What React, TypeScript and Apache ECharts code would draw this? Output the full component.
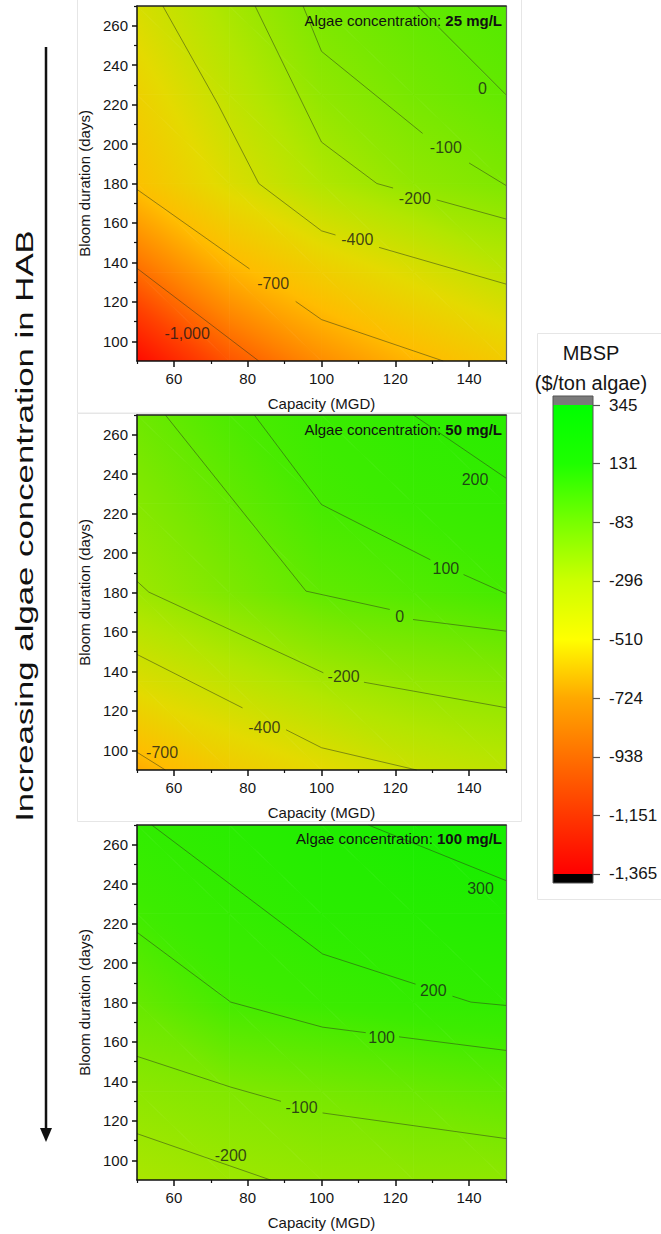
import React, { useEffect, useRef } from "react";
import * as echarts from "echarts";

const FONT = '"Liberation Sans", Arial, Helvetica, sans-serif';

// ---------- data ----------
const CAPACITY_NODES = [50, 75, 100, 125, 150]; // MGD
const DURATION_NODES = [90, 135, 180, 225, 270]; // days

// MBSP ($/ton algae); rows = duration 90 → 270, columns = capacity 50 → 150
const MBSP_25 = [
  [-1365, -1088, -898, -748, -620],
  [-1015, -767, -604, -473, -342],
  [-690, -473, -294, -171, -100],
  [-580, -355, -170, -70, 0],
  [-455, -256, -84, -3, 50],
];
const MBSP_50 = [
  [-790, -624, -514, -403, -340],
  [-470, -356, -252, -177, -131],
  [-215, -98, 8, 54, 100],
  [-125, -8, 100, 142, 178],
  [-40, 72, 142, 200, 240],
];
const MBSP_100 = [
  [-266, -220, -188, -172, -160],
  [-155, -110, -69, -31, 7],
  [-13, 100, 138, 176, 201],
  [115, 174, 225, 250, 273],
  [190, 235, 278, 318, 345],
];

// contour line pieces [capacity, duration] (gaps where labels sit)
const CONTOURS_25 = [
  [[50, 137], [83, 90]],
  [[50, 177], [80.5, 136.7]],
  [[93, 120.2], [100, 111], [133, 90]],
  [[57, 270], [63, 250], [72, 220], [83, 180], [100, 156], [103.8, 153.9]],
  [[115.6, 147.6], [150, 129]],
  [[82, 270], [100, 201], [115, 180], [119.4, 177.7]],
  [[131.2, 171.7], [150, 162]],
  [[95, 270], [100, 247], [127.4, 205.4]],
  [[140, 190.4], [150, 179]],
  [[126, 270], [150, 225]],
];
const CONTOURS_50 = [
  [[50, 99], [57.7, 90]],
  [[50, 148.6], [78.6, 121.5]],
  [[90.4, 110.4], [100, 101.3], [125.8, 90]],
  [[50, 185.7], [53.2, 180.2], [100.5, 139.3]],
  [[111.5, 134.5], [150, 121.6]],
  [[57.7, 270], [95.8, 180.7], [118.5, 171.4]],
  [[124.8, 166.3], [150, 160.4]],
  [[81.8, 270], [100, 224.6], [129.5, 196.6]],
  [[138.5, 189.1], [150, 179.5]],
  [[124.9, 270], [150, 238]],
];
const CONTOURS_100 = [
  [[50, 113.5], [86.2, 90]],
  [[50, 152.7], [75.4, 137.1], [89, 129.9]],
  [[100.3, 124], [150, 111]],
  [[50, 215.6], [75.4, 180.2], [100.3, 167.5], [112, 164.7]],
  [[121, 162.6], [150, 155.7]],
  [[54, 270], [100.3, 204.6], [125.5, 189.3]],
  [[135.5, 183.2], [140.5, 180.2], [150, 178.5]],
  [[112.7, 270], [150, 241.8]],
];

// contour labels [capacity, duration, level]
const LABELS_25 = [
  [63.6, 103.9, -1000],
  [86.9, 129.2, -700],
  [109.7, 151.6, -400],
  [125.3, 172.2, -200],
  [133.7, 198.1, -100],
  [143.6, 228, 0],
];
const LABELS_50 = [
  [56.8, 98.8, -700],
  [84.5, 111.5, -400],
  [106, 137.6, -200],
  [121.2, 167.7, 0],
  [133.7, 192, 100],
  [141.6, 237.2, 200],
];
const LABELS_100 = [
  [75.4, 102.5, -200],
  [94.6, 127, -100],
  [116.3, 162.4, 100],
  [130.3, 186, 200],
  [143.1, 237.6, 300],
];

const CONCENTRATIONS = ["25 mg/L", "50 mg/L", "100 mg/L"];

const X_MAJOR = [60, 80, 100, 120, 140];
const X_MINOR = [50, 70, 90, 110, 130, 150];
const Y_MAJOR = [100, 120, 140, 160, 180, 200, 220, 240, 260];
const Y_MINOR = [110, 130, 150, 170, 190, 210, 230, 250, 270];

// colour scale ticks (ascending) and colours
const CB_VALUES = [-1365, -1151, -938, -724, -510, -296, -83, 131, 345];
const FIELD_COLORS = ["#ff0a00", "#ff4200", "#ff8200", "#ffbc00", "#e4da00", "#b2e600", "#7ae800", "#3cec00", "#14ee00"];
const CB_COLORS = ["#ff0000", "#ff3800", "#ff7000", "#ffa800", "#ffff00", "#ccff00", "#78ff00", "#1eff00", "#00ff00"];
const CB_OVER = 378; // top of grey over-range cap
const CB_UNDER = -1398; // bottom of black under-range cap

// ---------- helpers ----------
function hexToRgb(h: string) {
  const n = parseInt(h.slice(1), 16);
  return [(n >> 16) & 255, (n >> 8) & 255, n & 255];
}
function colorAt(v: number, colors: string[]) {
  const vals = CB_VALUES;
  if (v <= vals[0]) return colors[0];
  if (v >= vals[vals.length - 1]) return colors[colors.length - 1];
  for (let i = 0; i < vals.length - 1; i++) {
    if (v <= vals[i + 1]) {
      const t = (v - vals[i]) / (vals[i + 1] - vals[i]);
      const a = hexToRgb(colors[i]);
      const b = hexToRgb(colors[i + 1]);
      return `rgb(${Math.round(a[0] + (b[0] - a[0]) * t)},${Math.round(a[1] + (b[1] - a[1]) * t)},${Math.round(
        a[2] + (b[2] - a[2]) * t
      )})`;
    }
  }
  return colors[colors.length - 1];
}
function triangleFill(p1: number[], p2: number[], p3: number[], v1: number, v2: number, v3: number): any {
  const ax = p2[0] - p1[0], ay = p2[1] - p1[1];
  const bx = p3[0] - p1[0], by = p3[1] - p1[1];
  const D = ax * by - ay * bx;
  const vmin = Math.min(v1, v2, v3), vmax = Math.max(v1, v2, v3);
  if (Math.abs(D) < 1e-9 || vmax - vmin < 1e-6) return colorAt((v1 + v2 + v3) / 3, FIELD_COLORS);
  const dv2 = v2 - v1, dv3 = v3 - v1;
  const gx = (dv2 * by - dv3 * ay) / D;
  const gy = (dv3 * ax - dv2 * bx) / D;
  const g2 = gx * gx + gy * gy;
  const sx = p1[0] + ((vmin - v1) * gx) / g2, sy = p1[1] + ((vmin - v1) * gy) / g2;
  const ex = p1[0] + ((vmax - v1) * gx) / g2, ey = p1[1] + ((vmax - v1) * gy) / g2;
  const stops: any[] = [{ offset: 0, color: colorAt(vmin, FIELD_COLORS) }];
  CB_VALUES.forEach((s) => {
    if (s > vmin && s < vmax) stops.push({ offset: (s - vmin) / (vmax - vmin), color: colorAt(s, FIELD_COLORS) });
  });
  stops.push({ offset: 1, color: colorAt(vmax, FIELD_COLORS) });
  return { type: "linear", x: sx, y: sy, x2: ex, y2: ey, colorStops: stops, global: true };
}
function fmtNum(v: number) {
  const r = Math.round(v);
  const s = Math.abs(r).toString().replace(/\B(?=(\d{3})+(?!\d))/g, ",");
  return (r < 0 ? "-" : "") + s;
}
function cellsOf(grid: number[][]) {
  const out: number[][] = [];
  for (let j = 0; j < DURATION_NODES.length - 1; j++) {
    for (let i = 0; i < CAPACITY_NODES.length - 1; i++) {
      out.push([
        CAPACITY_NODES[i], DURATION_NODES[j], CAPACITY_NODES[i + 1], DURATION_NODES[j + 1],
        grid[j][i], grid[j][i + 1], grid[j + 1][i], grid[j + 1][i + 1],
      ]);
    }
  }
  return out;
}

// ---------- layout ----------
const PANEL_LEFT = 137;
const PANEL_W = 369;
const PANEL_H = 355;
const PANEL_TOPS = [6, 415, 825];
const TEXT = "#151515";

export default function App() {
  const ref = useRef<HTMLDivElement>(null);
  useEffect(() => {
    if (!ref.current) return;
    const chart = echarts.init(ref.current, undefined, { renderer: "svg" });
    const grids = [MBSP_25, MBSP_50, MBSP_100];
    const contours = [CONTOURS_25, CONTOURS_50, CONTOURS_100];
    const labels = [LABELS_25, LABELS_50, LABELS_100];

    const grid: any[] = [];
    const xAxis: any[] = [];
    const yAxis: any[] = [];
    const series: any[] = [];
    const graphic: any[] = [];

    PANEL_TOPS.forEach((top, p) => {
      grid.push({ left: PANEL_LEFT, top, width: PANEL_W, height: PANEL_H, outerBoundsMode: "none", containLabel: false });
      const axisFont = { fontSize: 15, color: TEXT, fontFamily: FONT };
      xAxis.push(
        {
          gridIndex: p, type: "value", min: 50, max: 150, position: "bottom", z: 5,
          axisLine: { show: true, onZero: false, lineStyle: { color: "#111", width: 1.5 } },
          axisTick: { show: true, customValues: X_MAJOR, length: 6, lineStyle: { color: "#111", width: 1.5 } },
          axisLabel: { show: true, customValues: X_MAJOR, margin: 10, ...axisFont },
          splitLine: { show: false },
          name: "Capacity (MGD)", nameLocation: "middle", nameGap: 35, nameTextStyle: axisFont,
        },
        {
          gridIndex: p, type: "value", min: 50, max: 150, position: "bottom", z: 5,
          axisLine: { show: false, onZero: false },
          axisTick: { show: true, customValues: X_MINOR, length: 3, lineStyle: { color: "#111", width: 1.2 } },
          axisLabel: { show: false }, splitLine: { show: false },
        },
        {
          gridIndex: p, type: "value", min: 50, max: 150, position: "top", z: 5,
          axisLine: { show: true, onZero: false, lineStyle: { color: "#222", width: 1.5 } },
          axisTick: { show: false }, axisLabel: { show: false }, splitLine: { show: false },
        }
      );
      yAxis.push(
        {
          gridIndex: p, type: "value", min: 90, max: 270, position: "left", z: 5,
          axisLine: { show: true, onZero: false, lineStyle: { color: "#111", width: 1.5 } },
          axisTick: { show: true, customValues: Y_MAJOR, length: 5, lineStyle: { color: "#111", width: 1.5 } },
          axisLabel: { show: true, customValues: Y_MAJOR, margin: 9, ...axisFont },
          splitLine: { show: false },
          name: "Bloom duration (days)", nameLocation: "middle", nameGap: 40, nameRotate: 90,
          nameTextStyle: { fontSize: 15, color: TEXT, fontFamily: FONT },
        },
        {
          gridIndex: p, type: "value", min: 90, max: 270, position: "left", z: 5,
          axisLine: { show: false, onZero: false },
          axisTick: { show: true, customValues: Y_MINOR, length: 3, lineStyle: { color: "#111", width: 1.2 } },
          axisLabel: { show: false }, splitLine: { show: false },
        },
        {
          gridIndex: p, type: "value", min: 90, max: 270, position: "right", z: 5,
          axisLine: { show: true, onZero: false, lineStyle: { color: "#666", width: 1.2 } },
          axisTick: { show: false }, axisLabel: { show: false }, splitLine: { show: false },
        }
      );
      const ai = p * 3;
      series.push({
        type: "custom", xAxisIndex: ai, yAxisIndex: ai, silent: true, z: 1, clip: true,
        data: cellsOf(grids[p]),
        renderItem: (params: any, api: any) => {
          const c0 = api.value(0), d0 = api.value(1), c1 = api.value(2), d1 = api.value(3);
          const v00 = api.value(4), v10 = api.value(5), v01 = api.value(6), v11 = api.value(7);
          const p00 = api.coord([c0, d0]);
          const p10 = api.coord([c1, d0]);
          const p01 = api.coord([c0, d1]);
          const p11 = api.coord([c1, d1]);
          const f1 = triangleFill(p00, p10, p01, v00, v10, v01);
          const f2 = triangleFill(p11, p10, p01, v11, v10, v01);
          return {
            type: "group",
            children: [
              { type: "polygon", shape: { points: [p00, p10, p01] }, style: { fill: f1, stroke: f1, lineWidth: 0.8 } },
              { type: "polygon", shape: { points: [p11, p10, p01] }, style: { fill: f2, stroke: f2, lineWidth: 0.8 } },
            ],
          };
        },
      });
      contours[p].forEach((seg) => {
        series.push({
          type: "line", xAxisIndex: ai, yAxisIndex: ai, data: seg, showSymbol: false, symbol: "none",
          silent: true, z: 3, clip: true,
          lineStyle: { color: "rgba(45,55,25,0.5)", width: 1 },
        });
      });
      series.push({
        type: "scatter", xAxisIndex: ai, yAxisIndex: ai, data: labels[p], symbolSize: 1, silent: true, z: 4,
        itemStyle: { color: "rgba(0,0,0,0)" },
        label: {
          show: true, position: "inside", fontSize: 16, color: "#181818", fontFamily: FONT,
          formatter: (prm: any) => fmtNum(prm.value[2]),
        },
      });
      graphic.push({
        type: "text", z: 100, x: PANEL_LEFT + PANEL_W - 4, y: top + 14 - (p === 2 ? 1 : 0),
        style: {
          text: `{n|Algae concentration: }{b|${CONCENTRATIONS[p]}}`,
          align: "right", verticalAlign: "middle",
          rich: {
            n: { fontSize: 15, fontFamily: FONT, fill: "#111" },
            b: { fontSize: 15, fontFamily: FONT, fill: "#111", fontWeight: "bold" },
          },
        },
      });
    });

    // colour bar
    grid.push({ left: 553, top: 396, width: 40, height: 487, outerBoundsMode: "none", containLabel: false });
    xAxis.push({ gridIndex: 3, type: "value", min: 0, max: 1, show: false });
    yAxis.push({
      gridIndex: 3, type: "value", min: CB_UNDER, max: CB_OVER, position: "right", z: 5,
      axisLine: { show: false, onZero: false },
      axisTick: { show: true, customValues: CB_VALUES, length: 7, lineStyle: { color: "#555", width: 1.2 } },
      axisLabel: {
        show: true, customValues: CB_VALUES, margin: 16, fontSize: 17, color: TEXT, fontFamily: FONT,
        formatter: (v: number) => fmtNum(v),
      },
      splitLine: { show: false },
    });
    series.push({
      type: "custom", xAxisIndex: 9, yAxisIndex: 9, silent: true, z: 2, data: [[0, 0]],
      renderItem: (params: any, api: any) => {
        const tl = api.coord([0, CB_OVER]);
        const br = api.coord([1, CB_UNDER]);
        const t = api.coord([0, CB_VALUES[CB_VALUES.length - 1]]);
        const b = api.coord([0, CB_VALUES[0]]);
        const x = tl[0], w = br[0] - tl[0];
        const top = CB_VALUES[CB_VALUES.length - 1], bot = CB_VALUES[0];
        const stops = CB_VALUES.map((v, i) => ({ offset: (top - v) / (top - bot), color: CB_COLORS[i] })).reverse();
        return {
          type: "group",
          children: [
            { type: "rect", shape: { x, y: tl[1], width: w, height: t[1] - tl[1] }, style: { fill: "#7a7a7a" } },
            {
              type: "rect", shape: { x, y: t[1], width: w, height: b[1] - t[1] },
              style: { fill: { type: "linear", x: 0, y: 0, x2: 0, y2: 1, colorStops: stops } },
            },
            { type: "rect", shape: { x, y: b[1], width: w, height: br[1] - b[1] }, style: { fill: "#000" } },
            { type: "rect", shape: { x, y: tl[1], width: w, height: br[1] - tl[1] }, style: { fill: "none", stroke: "#555", lineWidth: 1 } },
          ],
        };
      },
    });

    // faint sub-figure frames
    graphic.push(
      { type: "rect", z: 0, shape: { x: 77.5, y: -1, width: 444, height: 414 }, style: { fill: "none", stroke: "#e6e6e6", lineWidth: 1 } },
      { type: "rect", z: 0, shape: { x: 77.5, y: 413.5, width: 444, height: 408 }, style: { fill: "none", stroke: "#e6e6e6", lineWidth: 1 } },
      { type: "rect", z: 0, shape: { x: 537.5, y: 333.5, width: 130, height: 566 }, style: { fill: "none", stroke: "#e6e6e6", lineWidth: 1 } }
    );
    // colour bar title
    graphic.push(
      { type: "text", z: 100, x: 591, y: 353, style: { text: "MBSP", fontSize: 20, fontFamily: FONT, fill: TEXT, align: "center", verticalAlign: "middle" } },
      { type: "text", z: 100, x: 591, y: 383, style: { text: "($/ton algae)", fontSize: 20, fontFamily: FONT, fill: TEXT, align: "center", verticalAlign: "middle" } }
    );
    // left arrow and caption
    graphic.push(
      { type: "line", z: 100, shape: { x1: 46, y1: 47, x2: 46, y2: 1130 }, style: { stroke: "#111", lineWidth: 2.5 } },
      { type: "polygon", z: 100, shape: { points: [[40, 1128], [52, 1128], [46, 1142]] }, style: { fill: "#111" } },
      {
        type: "text", z: 100, x: 25, y: 526, rotation: Math.PI / 2, scaleX: 1.45, scaleY: 1,
        style: { text: "Increasing algae concentration in HAB", fontSize: 24, fontFamily: FONT, fill: "#111", align: "center", verticalAlign: "middle" },
      }
    );

    chart.setOption({
      animation: false,
      backgroundColor: "#ffffff",
      grid,
      xAxis,
      yAxis,
      series,
      graphic,
    });
    return () => chart.dispose();
  }, []);
  return <div ref={ref} style={{ position: "absolute", left: 0, top: 0, width: 661, height: 1234 }} />;
}
